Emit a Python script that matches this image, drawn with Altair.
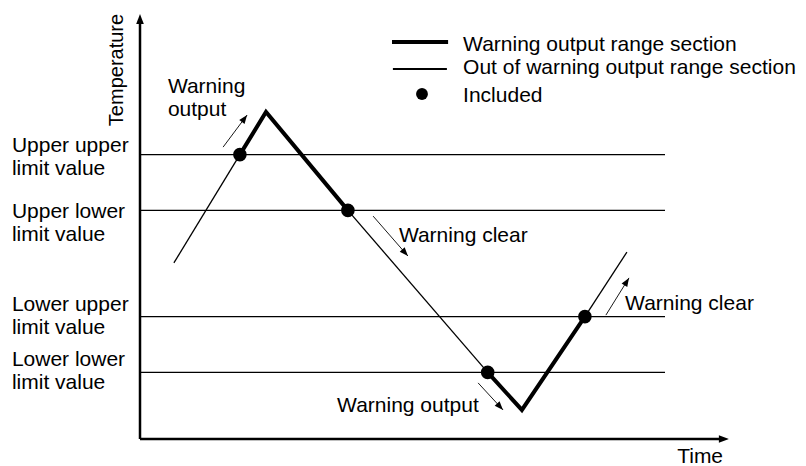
import math
import altair as alt
import pandas as pd

FONT = "Liberation Sans"
FS = 21

# ---------------- data (time / temperature units) ----------------
limit_names = ["Upper upper limit value", "Upper lower limit value",
               "Lower upper limit value", "Lower lower limit value"]
limit_temp = [94.8, 76.2, 40.8, 22.2]
limit_end = 175.0

curve_time = [11.3, 33.3, 42.0, 69.3, 115.9, 127.3, 148.3, 162.3]
curve_temp = [58.7, 94.8, 109.0, 76.2, 22.2, 9.7, 40.8, 62.3]
thick_runs = [[1, 2, 3], [4, 5, 6]]
thin_runs = [[0, 1], [3, 4], [6, 7]]
included = [1, 3, 4, 6]

label_first = ["Upper upper", "Upper lower", "Lower upper", "Lower lower"]
label_second = ["limit value", "limit value", "limit value", "limit value"]
label_temp = [97.8, 75.7, 44.8, 26.3]
label_time = -42.7

note_text = ["Warning", "output", "Warning clear", "Warning clear", "Warning output"]
note_time = [9.3, 9.3, 86.3, 161.7, 65.7]
note_temp = [117.3, 109.7, 67.8, 45.0, 11.0]

arrow_from_time = [27.7, 77.7, 155.3, 112.7]
arrow_from_temp = [97.3, 74.3, 41.3, 18.7]
arrow_to_time = [35.7, 89.3, 163.0, 121.0]
arrow_to_temp = [108.0, 61.0, 53.7, 9.7]

legend_labels = ["Warning output range section",
                 "Out of warning output range section", "Included"]

# ---------------- layout constants ----------------
W, H = 790, 458
K = 3.0  # px per unit
X0 = -44.0
X1 = X0 + W / K
Y1 = 431.0 / K
Y0 = Y1 - H / K

xs = alt.Scale(domain=[X0, X1], nice=False, zero=False)
ys = alt.Scale(domain=[Y0, Y1], nice=False, zero=False)

HEAD = "M0,0 L-0.38,1 L0.38,1 Z"


def X(f="t"):
    return alt.X(f"{f}:Q", scale=xs, axis=None)


def Y(f="T"):
    return alt.Y(f"{f}:Q", scale=ys, axis=None)


# axes
axis_df = pd.DataFrame({"t": [0.0, 0.0], "t2": [0.0, 194.0],
                        "T": [0.0, 0.0], "T2": [139.0, 0.0]})
axes = alt.Chart(axis_df).mark_rule(color="black", strokeWidth=2.5).encode(
    x=X(), x2="t2:Q", y=Y(), y2="T2:Q")
axis_head_df = pd.DataFrame({"t": [0.0, 196.3], "T": [141.7, 0.0], "a": [0, 90]})
axis_heads = alt.Chart(axis_head_df).mark_point(
    shape=HEAD, filled=True, color="black", opacity=1, size=400, strokeWidth=0
).encode(x=X(), y=Y(), angle=alt.Angle("a:Q", scale=None))

# limit lines
lim_df = pd.DataFrame({"name": limit_names, "T": limit_temp,
                       "t": [0.0] * 4, "t2": [limit_end] * 4})
lim = alt.Chart(lim_df).mark_rule(color="black", strokeWidth=1.1).encode(
    x=X(), x2="t2:Q", y=Y())

# curve
rows_thin, rows_thick = [], []
for k, run in enumerate(thin_runs):
    for o, i in enumerate(run):
        rows_thin.append({"seg": k, "o": o, "t": curve_time[i], "T": curve_temp[i]})
for k, run in enumerate(thick_runs):
    for o, i in enumerate(run):
        rows_thick.append({"seg": k, "o": o, "t": curve_time[i], "T": curve_temp[i]})
thin = alt.Chart(pd.DataFrame(rows_thin)).mark_line(
    color="black", strokeWidth=1.3).encode(x=X(), y=Y(), detail="seg:N", order="o:Q")
thick = alt.Chart(pd.DataFrame(rows_thick)).mark_line(
    color="black", strokeWidth=4, strokeJoin="miter").encode(
    x=X(), y=Y(), detail="seg:N", order="o:Q")

dot_df = pd.DataFrame({"t": [curve_time[i] for i in included],
                       "T": [curve_temp[i] for i in included]})
dots = alt.Chart(dot_df).mark_point(
    shape="circle", filled=True, color="black", opacity=1, size=185).encode(x=X(), y=Y())

# left labels
lab_rows = []
for a, b, T in zip(label_first, label_second, label_temp):
    lab_rows.append({"txt": a, "t": label_time, "T": T})
    lab_rows.append({"txt": b, "t": label_time, "T": T - 23 / K})
labels = alt.Chart(pd.DataFrame(lab_rows)).mark_text(
    align="left", baseline="middle", font=FONT, fontSize=FS, color="black").encode(
    x=X(), y=Y(), text="txt:N")

# annotation notes
note_df = pd.DataFrame({"txt": note_text, "t": note_time, "T": note_temp})
notes = alt.Chart(note_df).mark_text(
    align="left", baseline="middle", font=FONT, fontSize=FS, color="black").encode(
    x=X(), y=Y(), text="txt:N")

# annotation arrows
ang = []
for a, b, c, d in zip(arrow_from_time, arrow_from_temp, arrow_to_time, arrow_to_temp):
    ang.append(math.degrees(math.atan2(c - a, d - b)) % 360)
arr_df = pd.DataFrame({"t": arrow_from_time, "T": arrow_from_temp,
                       "t2": arrow_to_time, "T2": arrow_to_temp, "a": ang})
shafts = alt.Chart(arr_df).mark_rule(color="black", strokeWidth=0.9).encode(
    x=X(), x2="t2:Q", y=Y(), y2="T2:Q")
heads = alt.Chart(arr_df).mark_point(
    shape=HEAD, filled=True, color="black", opacity=1, size=300, strokeWidth=0).encode(
    x=X("t2"), y=Y("T2"), angle=alt.Angle("a:Q", scale=None))

# axis titles
title_df = pd.DataFrame({"txt": ["Temperature"], "t": [-7.7], "T": [123.0]})
ytitle = alt.Chart(title_df).mark_text(
    align="center", baseline="middle", angle=270, font=FONT, fontSize=20,
    color="black").encode(x=X(), y=Y(), text="txt:N")
xt_df = pd.DataFrame({"txt": ["Time"], "t": [186.7], "T": [-6.0]})
xtitle = alt.Chart(xt_df).mark_text(
    align="center", baseline="middle", font=FONT, fontSize=FS,
    color="black").encode(x=X(), y=Y(), text="txt:N")

# legend
leg_line_df = pd.DataFrame({"t": [84.0, 84.3], "t2": [102.7, 102.3],
                            "T": [132.3, 123.3], "w": [4.0, 2.0]})
leg_lines = alt.Chart(leg_line_df).mark_rule(color="black").encode(
    x=X(), x2="t2:Q", y=Y(), strokeWidth=alt.StrokeWidth("w:Q", scale=None))
leg_dot = alt.Chart(pd.DataFrame({"t": [94.0], "T": [115.0]})).mark_point(
    shape="circle", filled=True, color="black", opacity=1, size=140).encode(x=X(), y=Y())
leg_txt = alt.Chart(pd.DataFrame({"txt": legend_labels, "t": [107.7] * 3,
                                  "T": [131.3, 123.6, 114.5]})).mark_text(
    align="left", baseline="middle", font=FONT, fontSize=FS, color="black").encode(
    x=X(), y=Y(), text="txt:N")

chart = alt.layer(
    lim, axes, axis_heads, thin, thick, dots, labels, notes, shafts, heads,
    ytitle, xtitle, leg_lines, leg_dot, leg_txt
).properties(
    width=W, height=H, padding=0, autosize=alt.AutoSizeParams(type="none"),
    background="white"
).configure_view(stroke=None)

chart.save("out.html", embed_options={"renderer": "svg", "actions": False})
